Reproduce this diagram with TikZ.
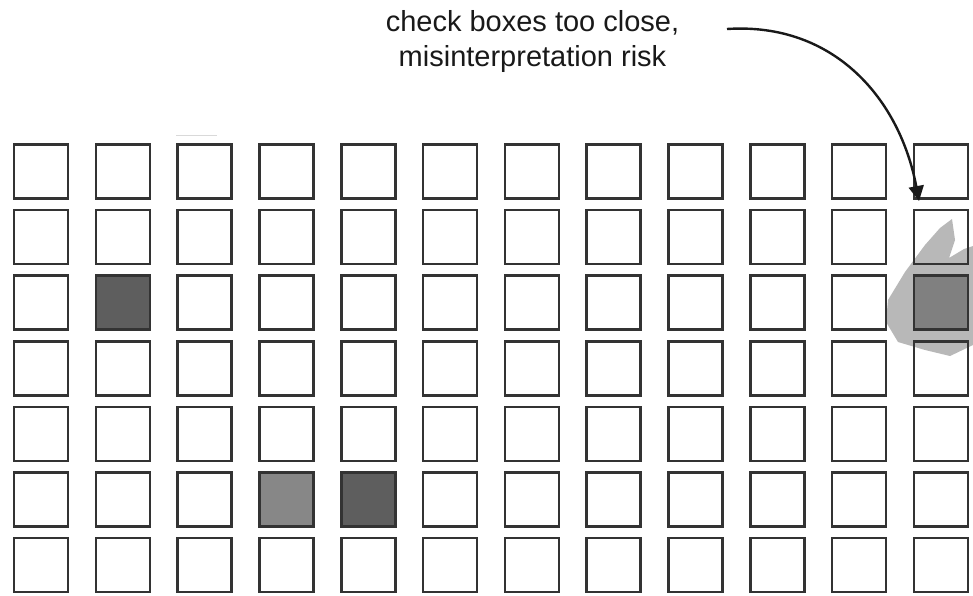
\documentclass[tikz,border=0pt]{standalone}
\usepackage{fontspec}
\setmainfont{Liberation Sans}
\usetikzlibrary{arrows.meta}
\begin{document}
\begin{tikzpicture}[x=1pt,y=-1pt,
  cbox/.style={draw=black!80,line width=2.6pt,minimum width=54pt,minimum height=54pt,inner sep=0pt},
  darkfill/.style={fill=black!63},
  midfill/.style={fill=black!47},
  note/.style={font=\fontsize{29}{35}\selectfont,align=center,inner sep=0pt,text=black!90},
  pointer/.style={line width=2.4pt,draw=black!90,-{Triangle[length=15pt,width=15pt]}}]
\useasboundingbox (0,0) rectangle (973,596);
\fill[white] (0,0) rectangle (973,596);
% scribble around the right-hand box
\fill[black!28] (952,219) -- (955,240) -- (949,258) -- (964,249) -- (973,246) -- (973,345)
  -- (950,356) -- (925,350) -- (898,342) -- (886,322) -- (888,300) -- (905,272)
  -- (925,245) -- (940,228) -- cycle;
% faint mark
\draw[black!15,line width=1pt] (176,136) -- (217,136);
% grid of boxes
\foreach \r in {1,...,7}{
  \foreach \c in {1,...,12}{
    \node[cbox] (b-\r-\c) at ({41+81.8*(\c-1)},{171.5+65.6*(\r-1)}) {};
  }
}
% filled boxes
\node[cbox,darkfill] (s1) at (b-3-2) {};
\node[cbox,midfill] (s2) at (b-6-4) {};
\node[cbox,darkfill] (s3) at (b-6-5) {};
\node[cbox,fill=black!50] (s4) at (b-3-12) {};
% note and pointer
\node[note] (label) at (532.5,42) {check boxes too close,\\misinterpretation risk};
\coordinate (a0) at (727,29);
\coordinate (a1) at (919,201);
\draw[pointer] (a0) .. controls (835,22) and (900,100) .. (a1);
\end{tikzpicture}
\end{document}
